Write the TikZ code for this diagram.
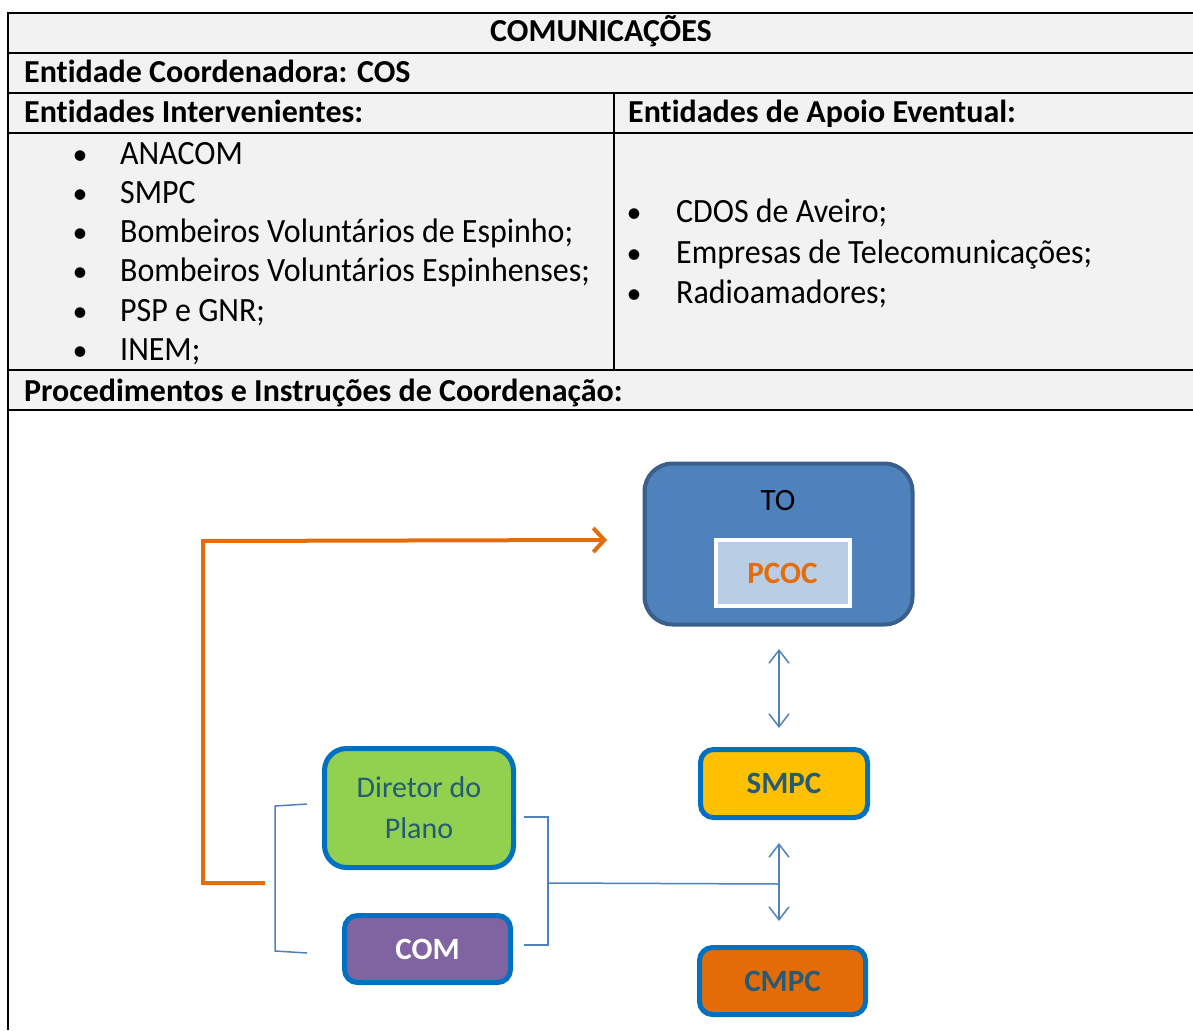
\documentclass[tikz,border=0pt]{standalone}
\usepackage{fontspec}
\setmainfont{Carlito}[Ligatures=NoCommon,RawFeature={-liga;-clig;-calt}]
\newfontfamily\tblreg{Carlito}[FakeStretch=0.94,Ligatures=NoCommon,RawFeature={-liga;-clig;-calt}]
\usetikzlibrary{arrows.meta,calc}
\definecolor{tblgray}{HTML}{F2F2F2}
\definecolor{toblue}{HTML}{4F81BD}
\definecolor{todark}{HTML}{3A5F8B}
\definecolor{pcocfill}{HTML}{B9CDE5}
\definecolor{orangeA}{HTML}{E46C0A}
\definecolor{boxblue}{HTML}{0070C0}
\definecolor{smpcfill}{HTML}{FFC000}
\definecolor{cmpcfill}{HTML}{E36C09}
\definecolor{dirfill}{HTML}{92D050}
\definecolor{comfill}{HTML}{8064A2}
\definecolor{tealtxt}{HTML}{245B75}
\definecolor{linkblue}{HTML}{4F81BD}
\tikzset{
  tline/.style={line width=2pt, draw=black},
  txt/.style={font=\tblreg\fontsize{34}{40}\selectfont, inner sep=0pt, anchor=base west},
  hdr/.style={inner sep=0pt, anchor=base west, font=\fontsize{32}{38}\selectfont\bfseries},
  blt/.style={font=\fontsize{30}{36}\selectfont, inner sep=0pt, anchor=base},
  orgbox/.style={draw=boxblue, line width=5pt, rounded corners=13pt, inner sep=0pt,
     font=\fontsize{31}{41}\selectfont\bfseries, text=tealtxt},
  barrow/.style={draw=linkblue, line width=1.5pt, {Straight Barb[length=13pt,width=20pt]}-{Straight Barb[length=13pt,width=20pt]}},
  bracket/.style={draw=linkblue, line width=1.5pt},
  orangeline/.style={draw=orangeA, line width=4pt}
}
\begin{document}
\begin{tikzpicture}[x=1pt,y=-1pt]
\useasboundingbox (0,0) rectangle (1193,1030);
% table background
\fill[tblgray] (8,13) rectangle (1193,410);
\draw[tline] (1193,13) -- (8,13) -- (8,1030);
\draw[tline] (8,53) -- (1193,53);
\draw[tline] (8,93) -- (1193,93);
\draw[tline] (8,133) -- (1193,133);
\draw[tline] (8,370) -- (1193,370);
\draw[tline] (8,410) -- (1193,410);
\draw[tline] (614,93) -- (614,370);
% headings
\node[hdr, anchor=base] (title) at (601,42) {COMUNICAÇÕES};
\node[hdr] (coord) at (24,83) {Entidade Coordenadora: COS};
\node[hdr] (interv) at (24,123) {Entidades Intervenientes:};
\node[hdr] (apoio) at (628,123) {Entidades de Apoio Eventual:};
\node[hdr] (proc) at (24,401) {Procedimentos e Instruções de Coordenação:};
% left list
\foreach \t/\y [count=\i] in {ANACOM/164, SMPC/203, Bombeiros Voluntários de Espinho;/242, Bombeiros Voluntários Espinhenses;/281, PSP e GNR;/321, INEM;/360}{
  \node[blt] (lb\i) at (80,\y) {•};
  \node[txt] (lt\i) at (120,\y) {\t};
}
% right list
\foreach \t/\y [count=\i] in {CDOS de Aveiro;/222, Empresas de Telecomunicações;/263, Radioamadores;/303}{
  \node[blt] (rb\i) at (634,\y) {•};
  \node[txt] (rt\i) at (676,\y) {\t};
}
% diagram
\node[draw=todark, fill=toblue, line width=4pt, rounded corners=28pt,
      minimum width=268pt, minimum height=161pt, inner sep=0pt] (TO) at (778.5,544) {};
\node[font=\fontsize{31}{36}\selectfont, inner sep=0pt] (TOt) at (778,501) {TO};
\node[draw=white, fill=pcocfill, line width=4pt, minimum width=134pt, minimum height=66pt,
      inner sep=0pt, font=\fontsize{31}{36}\selectfont\bfseries, text=orangeA] (PCOC) at (782.5,573) {PCOC};
\node[orgbox, fill=smpcfill, minimum width=167pt, minimum height=68pt] (SMPC) at (784,783.5) {SMPC};
\node[orgbox, fill=cmpcfill, minimum width=166pt, minimum height=67pt] (CMPC) at (782.5,981) {CMPC};
\node[orgbox, fill=dirfill, rounded corners=22pt, minimum width=189pt, minimum height=119pt,
      align=center, font=\fontsize{30}{41}\selectfont] (DIR) at (419,808) {Diretor do\\Plano};
\node[orgbox, fill=comfill, text=white, minimum width=166pt, minimum height=67pt] (COM) at (427.5,949) {COM};
% double arrows
\draw[barrow] (779,649) -- (779,728);
\draw[barrow] (779,843) -- (779,921);
% brackets
\coordinate (lbA) at (307,804);
\coordinate (lbB) at (307,953);
\draw[bracket] (lbA) -- (275,806) -- (275,951) -- (lbB);
\coordinate (rbA) at (524,817);
\coordinate (rbB) at (524,945);
\coordinate (rbM) at (548,883);
\coordinate (join) at (779,884);
\draw[bracket] (rbA) -- (548,817) -- (548,945) -- (rbB);
\draw[bracket] (rbM) -- (join);
% orange arrow
\coordinate (oStart) at (265,883);
\coordinate (oEnd) at (607,540);
\draw[orangeline, -{Straight Barb[length=11pt,width=24pt]}] (oStart) -- (203,883) -- (203,541) -- (oEnd);
\end{tikzpicture}
\end{document}
